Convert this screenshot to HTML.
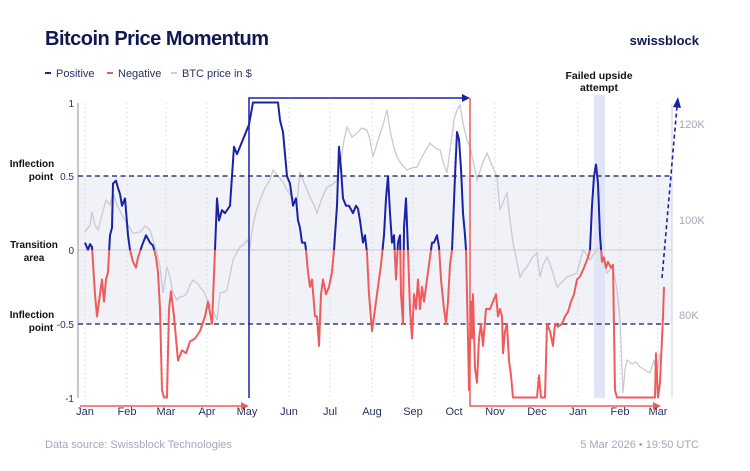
<!DOCTYPE html>
<html><head><meta charset="utf-8"><style>
body{margin:0;background:#fff;}
svg{display:block;font-family:"Liberation Sans",sans-serif;}
</style></head><body>
<svg width="750" height="471" viewBox="0 0 750 471" xmlns="http://www.w3.org/2000/svg">
<defs>
<clipPath id="cb" clipPathUnits="userSpaceOnUse"><rect x="0" y="0" width="750" height="2"/></clipPath>
<clipPath id="cr" clipPathUnits="userSpaceOnUse"><rect x="0" y="-2" width="750" height="2"/></clipPath>
<polyline id="m" fill="none" stroke-width="2" vector-effect="non-scaling-stroke" stroke-linejoin="round" points="85,0.05 88,0 90,0.04 92,0.02 95,-0.3 97,-0.45 100,-0.3 102,-0.2 104,-0.35 106,-0.2 108,-0.15 110,0.1 112,0.15 113,0.45 116,0.47 118,0.42 120,0.38 122,0.3 125,0.35 128,0.1 130,0 133,-0.08 136,-0.12 138,-0.05 142,0.03 146,0.1 150,0.05 153,0.03 156,-0.05 158,-0.15 160,-0.4 162,-0.95 164,-1 167,-1 169,-0.4 171,-0.28 174,-0.45 176,-0.6 178,-0.75 182,-0.68 186,-0.7 190,-0.62 195,-0.6 200,-0.55 205,-0.45 208,-0.35 212,-0.5 215,0 217,0.35 219,0.2 222,0.27 225,0.25 230,0.3 232,0.5 234,0.7 237,0.65 240,0.7 243,0.75 246,0.8 249,0.85 253,1 258,1 278,1 280,0.88 283,0.8 287,0.5 290,0.45 293,0.3 296,0.35 298,0.2 300,0.15 302,0.05 305,0.05 306,0 308,-0.15 310,-0.25 312,-0.2 315,-0.45 317,-0.45 319,-0.65 321,-0.3 323,-0.2 326,-0.3 329,-0.25 332,-0.15 334,0 337,0.3 339,0.7 341,0.55 343,0.35 346,0.3 349,0.3 353,0.25 356,0.3 358,0.28 360,0.2 363,0.05 365,0.1 367,-0.02 369,-0.3 372,-0.55 375,-0.4 378,-0.25 381,-0.1 384,0.1 386,0.35 388,0.5 390,0.25 392,0.05 394,0.1 396,-0.2 398,0.05 400,0.1 401,-0.3 403,-0.5 404,0.15 406,0.35 408,0 410,-0.4 412,-0.6 414,-0.3 416,-0.4 418,-0.2 420,-0.4 422,-0.25 424,-0.35 426,-0.25 428,-0.15 430,-0.05 432,0.05 434,0.05 437,0.1 439,0.02 441,-0.2 444,-0.4 446,-0.5 448,-0.35 450,-0.1 452,0 455,0.5 457,0.8 459,0.75 461,0.55 463,0.25 465,0.1 466,0 467,-0.3 468,-0.6 469,-0.95 471,-0.35 472,-0.6 473,-0.3 475,-0.8 477,-0.9 479,-0.6 481,-0.5 483,-0.65 486,-0.4 490,-0.4 493,-0.35 496,-0.3 498,-0.45 500,-0.4 502,-0.45 503,-0.7 505,-0.55 507,-0.5 509,-0.75 511,-0.85 513,-1 537,-1 539,-0.85 541,-1 545,-1 547,-0.5 550,-0.55 553,-0.65 555,-0.5 558,-0.52 562,-0.5 565,-0.45 568,-0.42 571,-0.35 574,-0.3 577,-0.2 580,-0.18 584,-0.12 588,-0.05 590,0 592,0.3 594,0.5 596,0.58 598,0.45 600,0.1 602,-0.08 604,-0.05 606,-0.12 608,-0.08 611,-0.12 613,-0.1 615,-0.95 617,-1 655,-1 656,-0.7 658,-1 660,-0.9 661,-0.75 663,-0.45 664,-0.25"/>
</defs>
<text x="45" y="45" font-size="20" font-weight="bold" fill="#101852" letter-spacing="-0.5">Bitcoin Price Momentum</text>
<text x="699" y="45" font-size="13" font-weight="bold" fill="#101852" text-anchor="end">swissblock</text>
<g font-size="11" fill="#2a3060">
<rect x="45" y="72" width="6" height="2" fill="#1a22a8"/><text x="56" y="77">Positive</text>
<rect x="107" y="72" width="6" height="2" fill="#ef5b5b"/><text x="118" y="77">Negative</text>
<rect x="171" y="72" width="6" height="2" fill="#ccccd6"/><text x="182" y="77">BTC price in $</text>
</g>
<text x="599" y="79" font-size="10.5" font-weight="bold" fill="#111" text-anchor="middle">Failed upside</text>
<text x="599" y="91" font-size="10.5" font-weight="bold" fill="#111" text-anchor="middle">attempt</text>
<rect x="78" y="176" width="594" height="148" fill="#f1f2f7"/>
<rect x="594" y="95" width="11" height="303" fill="#dfe5f7"/>
<g stroke="#d8d8e0" stroke-dasharray="1.5,3" stroke-width="1">
<line x1="85" y1="103" x2="85" y2="398"/><line x1="127" y1="103" x2="127" y2="398"/><line x1="166" y1="103" x2="166" y2="398"/><line x1="207" y1="103" x2="207" y2="398"/><line x1="289" y1="103" x2="289" y2="398"/><line x1="330" y1="103" x2="330" y2="398"/><line x1="372" y1="103" x2="372" y2="398"/><line x1="413" y1="103" x2="413" y2="398"/><line x1="454" y1="103" x2="454" y2="398"/><line x1="495" y1="103" x2="495" y2="398"/><line x1="537" y1="103" x2="537" y2="398"/><line x1="578" y1="103" x2="578" y2="398"/><line x1="620" y1="103" x2="620" y2="398"/><line x1="658" y1="103" x2="658" y2="398"/>
</g>
<line x1="78" y1="250" x2="672" y2="250" stroke="#d4d4dc" stroke-width="1.2"/>
<line x1="78" y1="103" x2="78" y2="398" stroke="#8a8fa8" stroke-width="1"/>
<line x1="672" y1="103" x2="672" y2="398" stroke="#d0d0da" stroke-width="1"/>
<polyline fill="none" stroke="#c9c9d6" stroke-width="1.3" points="85,232 88,228 90,225 92,212 95,225 98,230 102,215 106,200 110,205 113,193 117,205 122,215 128,225 133,233 140,232 145,226 150,230 153,240 157,253 160,267 163,293 167,267 170,277 173,293 177,300 180,297 184,296 187,293 190,285 193,280 197,283 200,287 204,292 207,300 210,305 213,310 217,320 220,293 224,292 227,290 230,275 233,260 237,252 240,247 244,244 247,240 250,247 253,225 256,212 260,200 265,188 270,180 273,170 277,175 283,182 287,190 292,197 297,203 300,172 305,185 310,197 314,205 317,213 322,198 327,187 332,185 337,180 341,160 344,140 347,127 352,137 357,133 362,128 367,130 370,140 373,157 378,140 383,125 387,110 390,130 394,148 397,157 402,165 407,170 412,168 417,167 423,155 430,143 435,148 440,150 444,165 447,173 450,150 454,120 457,110 460,105 463,123 467,140 470,147 474,165 477,180 482,165 487,153 492,165 497,177 500,210 504,200 507,193 510,220 513,243 517,262 520,277 524,270 527,267 532,258 537,253 540,277 543,265 547,257 552,270 557,287 562,282 567,277 572,275 577,273 580,262 583,250 587,255 590,260 595,252 600,247 604,262 607,273 610,270 613,267 617,290 620,320 623,393 625,370 627,360 632,364 636,362 640,367 645,370 650,373 654,360 657,375 660,353"/>
<line x1="78" y1="176" x2="672" y2="176" stroke="#101852" stroke-width="1.3" stroke-dasharray="5,3.5"/>
<line x1="78" y1="324" x2="672" y2="324" stroke="#101852" stroke-width="1.3" stroke-dasharray="5,3.5"/>
<g transform="translate(0,250) scale(1,-147.5)">
<use href="#m" clip-path="url(#cb)" stroke="#1a22a8"/>
<use href="#m" clip-path="url(#cr)" stroke="#ef5b5b"/>
</g>
<polyline points="249,398 249,98 466,98" fill="none" stroke="#1a22a8" stroke-width="1.5"/>
<polygon points="470,98 462,94 462,102" fill="#1a22a8"/>
<polyline points="470,98 470,406 656,406" fill="none" stroke="#ef5b5b" stroke-width="1.5"/>
<polygon points="661,406 653,402 653,410" fill="#ef5b5b"/>
<line x1="80" y1="406" x2="244" y2="406" stroke="#ef5b5b" stroke-width="1.5"/>
<polygon points="249,406 241,402 241,410" fill="#ef5b5b"/>
<line x1="662" y1="278" x2="677" y2="106" stroke="#1a22a8" stroke-width="1.6" stroke-dasharray="4,3"/>
<polygon points="678,97 673,107 681,108" fill="#1a22a8"/>
<g font-size="10" fill="#2a3060" text-anchor="end">
<text x="74" y="107">1</text><text x="74" y="180">0.5</text><text x="74" y="254">0</text><text x="74" y="328">-0.5</text><text x="74" y="402">-1</text>
</g>
<g font-size="10" font-weight="bold" fill="#111" text-anchor="middle">
<text x="32" y="167">Inflection</text><text x="41" y="180">point</text>
<text x="34" y="248">Transition</text><text x="34" y="261">area</text>
<text x="32" y="318">Inflection</text><text x="41" y="331">point</text>
</g>
<g font-size="11" fill="#a8a8b8">
<text x="679" y="128">120K</text><text x="679" y="224">100K</text><text x="679" y="319">80K</text>
</g>
<g font-size="11" fill="#2a3060" text-anchor="middle">
<text x="85" y="415">Jan</text><text x="127" y="415">Feb</text><text x="166" y="415">Mar</text><text x="207" y="415">Apr</text><text x="247" y="415">May</text><text x="289" y="415">Jun</text><text x="330" y="415">Jul</text><text x="372" y="415">Aug</text><text x="413" y="415">Sep</text><text x="454" y="415">Oct</text><text x="495" y="415">Nov</text><text x="537" y="415">Dec</text><text x="578" y="415">Jan</text><text x="620" y="415">Feb</text><text x="658" y="415">Mar</text>
</g>
<text x="45" y="448" font-size="11" fill="#a4a8b8">Data source: Swissblock Technologies</text>
<text x="699" y="448" font-size="11" fill="#a4a8b8" text-anchor="end">5 Mar 2026 • 19:50 UTC</text>
</svg>
</body></html>
